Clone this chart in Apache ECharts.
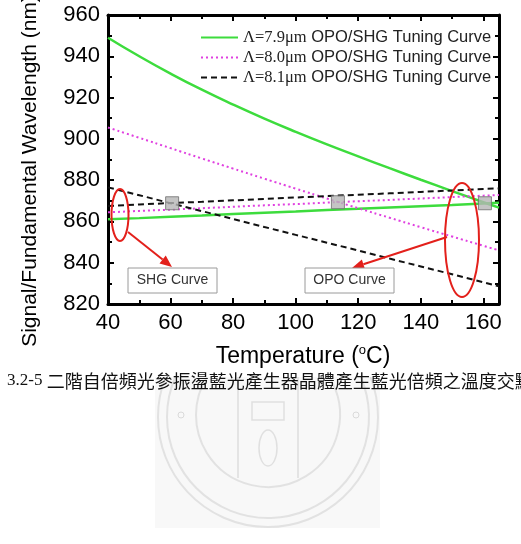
<!DOCTYPE html>
<html>
<head>
<meta charset="utf-8">
<script src="https://cdn.jsdelivr.net/npm/echarts@6/dist/echarts.min.js"></script>
<style>
  html, body { margin: 0; padding: 0; background: #fff; }
  #main { width: 521px; height: 544px; }
</style>
</head>
<body>
<div id="main"></div>
<script>
// temperature samples (°C)
const temps = [40, 50, 60, 70, 80, 90, 100, 110, 120, 130, 140, 150, 160, 165]

// wavelengths (nm)
const opo79 = [949, 940, 931.6, 923.8, 916.6, 909.8, 903.4, 897.3, 891.5, 885.8, 880.2, 874.7, 869.3, 866.7]
const shg79 = [861, 861.6, 862.3, 862.9, 863.6, 864.2, 864.8, 865.5, 866.1, 866.8, 867.4, 868, 868.7, 869]
const opo80 = [905.5, 900.5, 895.5, 890.5, 885.6, 880.7, 875.9, 871.1, 866.4, 861.8, 857.2, 852.7, 848.2, 846]
const shg80 = [864.4, 865.1, 865.7, 866.4, 867.1, 867.8, 868.4, 869.1, 869.8, 870.4, 871.1, 871.8, 872.5, 872.8]
const opo81 = [876.5, 872.7, 868.8, 865, 861.2, 857.3, 853.5, 849.7, 845.9, 842, 838.2, 834.4, 830.5, 828.6]
const shg81 = [867.5, 868.2, 868.9, 869.5, 870.2, 870.9, 871.6, 872.3, 872.9, 873.6, 874.3, 875, 875.7, 876]

// crossing points (temperature, wavelength)
const crossT = [60.5, 113.5, 160.5]
const crossW = [868.8, 869.3, 868.8]

const names = [
  'Λ=7.9μm OPO/SHG Tuning Curve',
  'Λ=8.0μm OPO/SHG Tuning Curve',
  'Λ=8.1μm OPO/SHG Tuning Curve'
]

const zip = (xs, ys) => xs.map((x, i) => [x, ys[i]])

const myChart = echarts.init(document.getElementById('main'))

// 坐标轴
function axis (pos, isX, showLabel) {
  const a = {
    type: 'value',
    position: pos,
    axisLine: { show: true, onZero: false, lineStyle: { color: '#000', width: 3 } },
    axisTick: { show: true, inside: true, length: 6, lineStyle: { color: '#000', width: 2 } },
    minorTick: { show: true, splitNumber: 2, length: 4, lineStyle: { color: '#000', width: 2 } },
    splitLine: { show: false },
    axisLabel: {
      show: showLabel,
      fontSize: 22,
      fontFamily: 'Liberation Sans, Arial',
      color: '#000',
      margin: 8
    }
  }
  if (isX) {
    a.min = 40
    a.max = 165
    a.interval = 20
    a.axisLabel.showMaxLabel = false
  } else {
    a.min = 820
    a.max = 960
    a.interval = 20
  }
  return a
}

function arrow (x1, y1, x2, y2) {
  const ang = Math.atan2(y2 - y1, x2 - x1)
  const L = 12
  const W = 5
  const bx = x2 - L * Math.cos(ang)
  const by = y2 - L * Math.sin(ang)
  return [
    { type: 'line', shape: { x1: x1, y1: y1, x2: bx, y2: by }, style: { stroke: '#e3201b', lineWidth: 2 }, z: 10 },
    {
      type: 'polygon',
      shape: { points: [[x2, y2], [bx + W * Math.sin(ang), by - W * Math.cos(ang)], [bx - W * Math.sin(ang), by + W * Math.cos(ang)]] },
      style: { fill: '#e3201b' },
      z: 10
    }
  ]
}

function labelBox (x, y, w, h, text) {
  return [
    { type: 'rect', shape: { x: x, y: y, width: w, height: h }, style: { fill: '#fff', stroke: '#9a9a9a', lineWidth: 1 }, z: 11 },
    {
      type: 'text', x: x + w / 2, y: y + h / 2, z: 12,
      style: { text: text, fontSize: 14, fontFamily: 'Liberation Sans, Arial', fill: '#333', align: 'center', verticalAlign: 'middle' }
    }
  ]
}

// 台大校徽水印 (rough)
function wmArc (cy, r) {
  const a = Math.asin((cy - 377) / r)
  return {
    type: 'arc', z: 0,
    shape: { cx: 268, cy: cy, r: r, startAngle: -a, endAngle: Math.PI + a, clockwise: true },
    style: { stroke: '#e2e2e2', lineWidth: 2, fill: null }
  }
}

const watermark = [
  { type: 'rect', z: 0, shape: { x: 155, y: 377, width: 225, height: 151 }, style: { fill: '#f8f8f8' } },
  wmArc(417, 110),
  wmArc(417, 101),
  wmArc(415, 72),
  { type: 'circle', z: 0, shape: { cx: 181, cy: 415, r: 3 }, style: { stroke: '#dadada', fill: null, lineWidth: 1 } },
  { type: 'circle', z: 0, shape: { cx: 356, cy: 415, r: 3 }, style: { stroke: '#dadada', fill: null, lineWidth: 1 } },
  { type: 'line', z: 0, shape: { x1: 238, y1: 377, x2: 238, y2: 478 }, style: { stroke: '#e4e4e4', lineWidth: 2 } },
  { type: 'line', z: 0, shape: { x1: 298, y1: 377, x2: 298, y2: 478 }, style: { stroke: '#e4e4e4', lineWidth: 2 } },
  { type: 'rect', z: 0, shape: { x: 252, y: 402, width: 32, height: 18 }, style: { stroke: '#e0e0e0', fill: null, lineWidth: 1.5 } },
  { type: 'ellipse', z: 0, shape: { cx: 268, cy: 448, rx: 9, ry: 18 }, style: { stroke: '#e0e0e0', fill: null, lineWidth: 1.5 } }
]

const option = {
  backgroundColor: '#fff',
  animation: false,
  grid: { left: 108, top: 15, right: 22, bottom: 240 },
  xAxis: [axis('bottom', true, true), axis('top', true, false)],
  yAxis: [axis('left', false, true), axis('right', false, false)],
  legend: {
    data: names,
    orient: 'vertical',
    left: 195,
    top: 24,
    itemWidth: 37,
    itemHeight: 12,
    itemGap: 3,
    itemStyle: { opacity: 0 },
    formatter: function (n) {
      const i = n.indexOf(' ')
      return '{s|' + n.slice(0, i) + '}{a|' + n.slice(i) + '}'
    },
    textStyle: {
      color: '#222',
      rich: {
        s: { fontFamily: 'Liberation Serif, Times New Roman', fontSize: 16.5, color: '#222', lineHeight: 18.5 },
        a: { fontFamily: 'Liberation Sans, Arial', fontSize: 16.5, color: '#222', lineHeight: 18.5 }
      }
    }
  },
  series: [
    { name: names[0], type: 'line', smooth: true, symbol: 'none', data: zip(temps, opo79), lineStyle: { color: '#3ddc3d', width: 2.5 }, itemStyle: { color: '#3ddc3d' } },
    { name: names[0], type: 'line', symbol: 'none', data: zip(temps, shg79), lineStyle: { color: '#3ddc3d', width: 2.5 }, itemStyle: { color: '#3ddc3d' } },
    { name: names[1], type: 'line', smooth: true, symbol: 'none', data: zip(temps, opo80), lineStyle: { color: '#e040e0', width: 2, type: [2, 3] }, itemStyle: { color: '#e040e0' } },
    { name: names[1], type: 'line', symbol: 'none', data: zip(temps, shg80), lineStyle: { color: '#e040e0', width: 2, type: [2, 3] }, itemStyle: { color: '#e040e0' } },
    { name: names[2], type: 'line', symbol: 'none', data: zip(temps, opo81), lineStyle: { color: '#111', width: 2, type: [6, 4] }, itemStyle: { color: '#111' } },
    { name: names[2], type: 'line', symbol: 'none', data: zip(temps, shg81), lineStyle: { color: '#111', width: 2, type: [6, 4] }, itemStyle: { color: '#111' } },
    {
      name: 'cross', type: 'scatter', symbol: 'rect', symbolSize: 13, z: 5,
      data: zip(crossT, crossW),
      itemStyle: { color: '#b5b5b5', borderColor: '#6e6e6e', borderWidth: 1 }
    }
  ],
  graphic: [
    ...watermark,
    // Y 轴标题
    {
      type: 'text', x: 30, y: 171, rotation: Math.PI / 2,
      style: { text: 'Signal/Fundamental Wavelength (nm)', fontSize: 21, fontFamily: 'Liberation Sans, Arial', fill: '#000', align: 'center', verticalAlign: 'middle' }
    },
    // X 轴标题
    {
      type: 'text', x: 303, y: 357,
      style: {
        text: '{a|Temperature (}{s|o}{a|C)}',
        align: 'center',
        verticalAlign: 'middle',
        rich: {
          a: { fontSize: 23, fontFamily: 'Liberation Sans, Arial', fill: '#000', lineHeight: 26 },
          s: { fontSize: 13, fontFamily: 'Liberation Sans, Arial', fill: '#000', lineHeight: 26, padding: [0, 0, 14, 0] }
        }
      }
    },
    // 红色标注
    { type: 'ellipse', z: 10, shape: { cx: 120, cy: 215, rx: 8.5, ry: 26 }, style: { stroke: '#e3201b', lineWidth: 2, fill: null } },
    ...arrow(128, 232, 172, 267),
    { type: 'ellipse', z: 10, shape: { cx: 462, cy: 240, rx: 17, ry: 57 }, style: { stroke: '#e3201b', lineWidth: 2, fill: null } },
    ...arrow(447, 237, 352, 268),
    ...labelBox(128, 268, 89, 25, 'SHG Curve'),
    ...labelBox(305, 268, 89, 25, 'OPO Curve'),
    // 图注
    {
      type: 'text', x: 7, y: 381, z: 5,
      style: {
        text: '{n|3.2-5 }{c|二階自倍頻光參振盪藍光產生器晶體產生藍光倍頻之溫度交點}',
        verticalAlign: 'middle',
        rich: {
          n: { fontSize: 17, fontFamily: 'Liberation Serif, Times New Roman', fill: '#111' },
          c: { fontSize: 18, fontFamily: 'Noto Sans CJK TC', fill: '#111' }
        }
      }
    }
  ]
}

myChart.setOption(option)
</script>
</body>
</html>
